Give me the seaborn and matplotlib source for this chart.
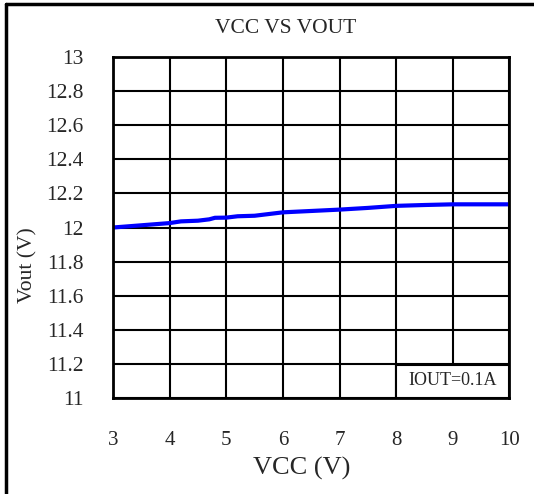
import seaborn as sns
import matplotlib
matplotlib.use('Agg')

import matplotlib.pyplot as plt
from matplotlib.lines import Line2D
from matplotlib.patches import Rectangle

# данные
vcc = [3, 3.5, 4, 4.2, 4.5, 4.7, 4.8, 5, 5.2, 5.5, 6, 6.5, 7, 7.5, 8, 8.5, 9, 9.5, 10]
vout = [12.0, 12.013, 12.026, 12.036, 12.04, 12.048, 12.057, 12.058, 12.066, 12.069,
        12.089, 12.097, 12.105, 12.115, 12.127, 12.132, 12.136, 12.136, 12.136]
x_ticks = [3, 4, 5, 6, 7, 8, 9, 10]
y_ticks = [11, 11.2, 11.4, 11.6, 11.8, 12, 12.2, 12.4, 12.6, 12.8, 13]

sns.set_style("white")
plt.rcParams['font.family'] = ['Liberation Serif', 'DejaVu Serif']

fig = plt.figure(figsize=(5.34, 4.94), dpi=100)
ax = fig.add_axes([0.2116, 0.1943, 0.7425, 0.6903])

sns.lineplot(x=vcc, y=vout, color='#0000ff', linewidth=3, ax=ax)

ax.set_xlim(3, 10)
ax.set_ylim(11, 13)
ax.set_xticks(x_ticks)
ax.set_xticklabels([str(t) for t in x_ticks])
ax.set_yticks(y_ticks)
ax.set_yticklabels(['%g' % t for t in y_ticks])
ax.tick_params(axis='x', length=0, pad=24, labelsize=15)
ax.tick_params(axis='y', length=0, pad=21, labelsize=15.5)
ax.grid(True, color='black', linewidth=1.5)
ax.set_axisbelow(True)
for sp in ax.spines.values():
    sp.set_color('black')
    sp.set_linewidth(2)

ax.set_xlabel("VCC (V)", fontsize=19)
ax.xaxis.set_label_coords(0.476, -0.172)
ax.set_ylabel("Vout (V)", fontsize=15.5)
ax.yaxis.set_label_coords(-0.19, 0.39)
fig.text(0.534, 0.943, "VCC VS VOUT", ha='center', va='center', fontsize=15.5)

# подпись условия в правом нижнем углу
ax.add_patch(Rectangle((0.715, 0.0), 0.285, 0.097, transform=ax.transAxes,
                       facecolor='white', edgecolor='black', linewidth=1.5, zorder=4))
ax.text(0.8575, 0.05, "IOUT=0.1A", transform=ax.transAxes, ha='center', va='center',
        fontsize=13, zorder=5)

# рамка вокруг рисунка (видны только левая и верхняя стороны)
fig.add_artist(Line2D([0.011, 0.011], [0, 0.991], color='black', linewidth=2.5,
                      transform=fig.transFigure))
fig.add_artist(Line2D([0.011, 1.0], [0.991, 0.991], color='black', linewidth=2.5,
                      transform=fig.transFigure))

plt.savefig('out.png', dpi=100)
plt.close()
